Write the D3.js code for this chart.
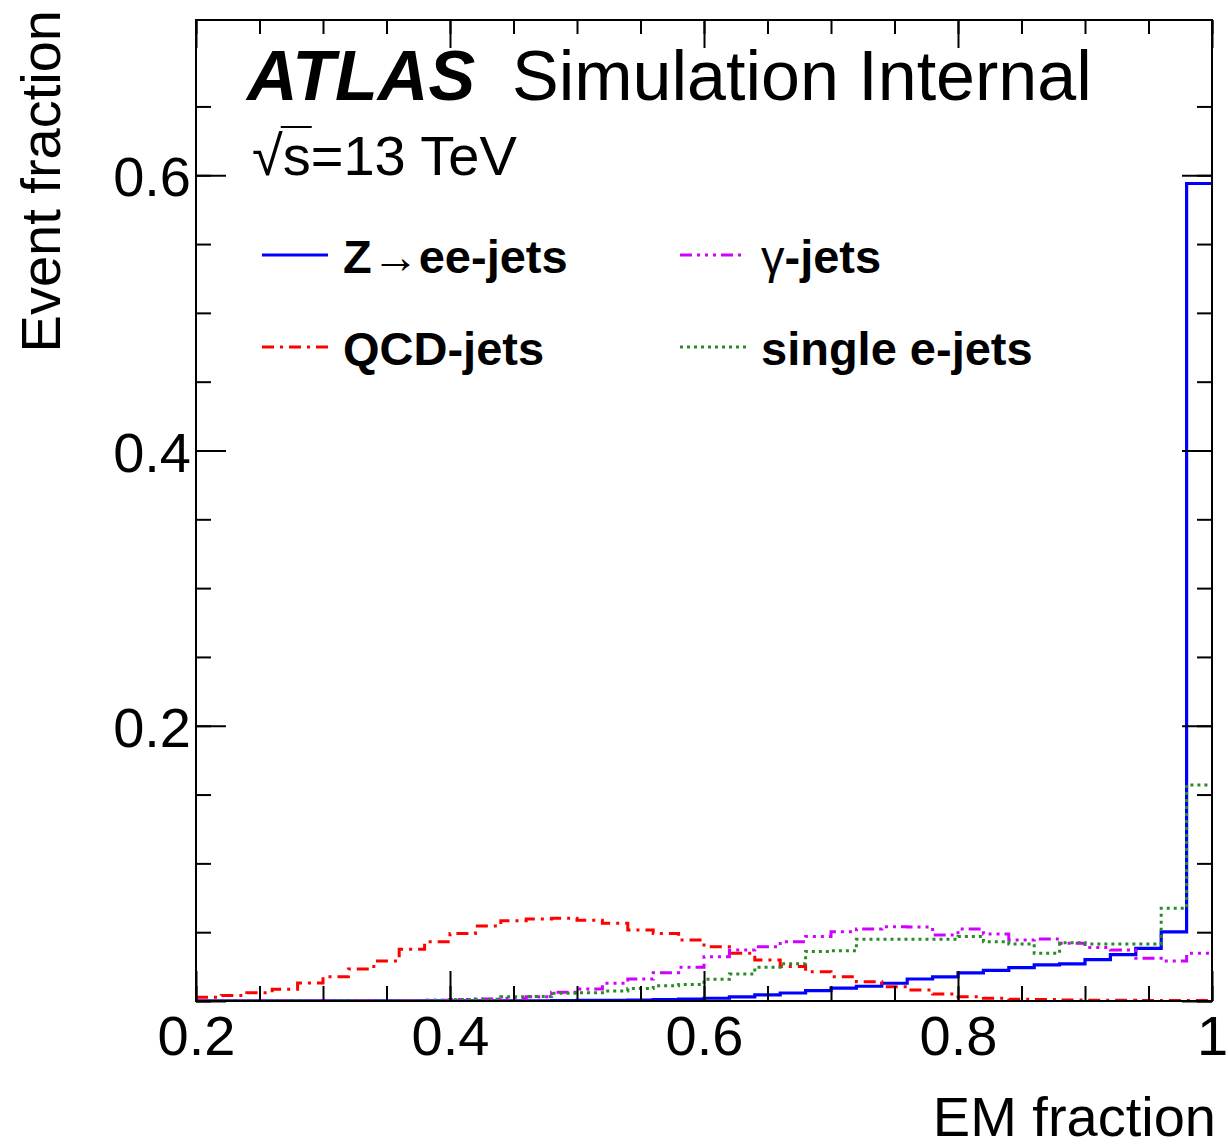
<!DOCTYPE html>
<html>
<head>
<meta charset="utf-8">
<script src="https://cdn.jsdelivr.net/npm/d3@7"></script>
<style>
	body{margin:0;background:#fff;}
	text{font-family:"Liberation Sans",Arial,Helvetica,sans-serif;fill:#000;}
</style>
</head>
<body>
<svg id="chart" width="1228" height="1147"></svg>
<script>
// bin edges: 40 bins of 0.02 from 0.2 to 1.0
let binLow = d3.range(40).map(function(i){ return +(0.2+i*0.02).toFixed(2) })
let binWidth = 0.02

// event fractions, one value per bin
let zeeJets = [0.0001,0.0001,0.0001,0.0001,0.0001,0.0001,0.0001,0.0001,0.0001,0.0001,
	0.0002,0.0002,0.0002,0.0002,0.0003,0.0004,0.0005,0.0007,0.001,0.0013,
	0.002,0.003,0.0045,0.0058,0.0075,0.0093,0.0107,0.0129,0.016,0.0175,
	0.0205,0.0223,0.0242,0.0262,0.027,0.030,0.0337,0.0383,0.0502,0.594]

let qcdJets = [0.0028,0.004,0.006,0.0085,0.013,0.0177,0.0233,0.029,0.0376,0.043,
	0.049,0.0545,0.0584,0.0596,0.0601,0.0587,0.0565,0.0516,0.049,0.0444,
	0.0395,0.0347,0.0298,0.025,0.0213,0.0177,0.014,0.0104,0.008,0.005,
	0.0031,0.002,0.0013,0.0011,0.0008,0.0006,0.0005,0.0004,0.0003,0.0003]

let gammaJets = [0.0002,0.0002,0.0002,0.0002,0.0002,0.0002,0.0002,0.0002,0.0002,0.0006,
	0.001,0.0015,0.002,0.003,0.0063,0.0087,0.0129,0.016,0.0206,0.0245,
	0.0322,0.0371,0.0395,0.0431,0.0468,0.0504,0.0524,0.054,0.0537,0.048,
	0.0524,0.0487,0.0444,0.045,0.042,0.0388,0.0371,0.031,0.029,0.0347]

let singleEJets = [0.0002,0.0002,0.0002,0.0002,0.0002,0.0002,0.0002,0.0002,0.0002,0.0005,
	0.001,0.0012,0.003,0.0033,0.0056,0.006,0.0073,0.009,0.011,0.012,
	0.0158,0.0196,0.0245,0.027,0.0359,0.0366,0.0449,0.0449,0.0449,0.0449,
	0.0468,0.0431,0.0415,0.0347,0.0424,0.0415,0.0415,0.0415,0.0674,0.157]

let xMajorTicks = [0.2,0.4,0.6,0.8,1.0]
let xTickLabels = ['0.2','0.4','0.6','0.8','1']
let yMajorTicks = [0,0.2,0.4,0.6]
let yTickLabels = ['','0.2','0.4','0.6']

let series = [
	{'name':'zee','values':zeeJets,'colour':'#0000ff','dash':null,'width':3.2},
	{'name':'qcd','values':qcdJets,'colour':'#ff0000','dash':'12,6,3,6','width':3},
	{'name':'gamma','values':gammaJets,'colour':'#d000ff','dash':'12,5,3,5,3,5,3,5','width':3},
	{'name':'single','values':singleEJets,'colour':'#2a8a2a','dash':'3,4','width':3}
]

let legendOrder = ['zee','gamma','qcd','single']

function init(){
	let svg = d3.select('#chart')
	let margin = {top:20,right:16,bottom:146,left:196}
	let width = 1228-margin.left-margin.right
	let height = 1147-margin.top-margin.bottom

	let x = d3.scaleLinear().domain([0.2,1.0]).range([0,width])
	let y = d3.scaleLinear().domain([0,0.7128]).range([height,0])

	svg.append('rect').attr('width',1228).attr('height',1147).attr('fill','#fff')

	let g = svg.append('g').attr('transform','translate('+margin.left+','+margin.top+')')

	g.append('clipPath').attr('id','plotclip')
		.append('rect').attr('x',-2).attr('y',0).attr('width',width+4).attr('height',height)

	// histograms
	let line = d3.line().x(function(d){ return x(d[0]) }).y(function(d){ return y(d[1]) })
	series.forEach(function(s){
		let pts = []
		s.values.forEach(function(v,i){
			pts.push([binLow[i],v])
			pts.push([binLow[i]+binWidth,v])
		})
		g.append('path')
			.attr('d',line(pts))
			.attr('fill','none')
			.attr('stroke',s.colour)
			.attr('stroke-width',s.width)
			.attr('stroke-dasharray',s.dash)
			.attr('clip-path','url(#plotclip)')
	})

	// minor ticks
	let xMinor = d3.range(0.2,1.0001,0.05).map(function(v){ return +v.toFixed(2) })
	let yMinor = d3.range(0,0.7,0.05).map(function(v){ return +v.toFixed(2) })

	function styleAxis(sel){
		sel.select('.domain').remove()
		sel.selectAll('line').attr('stroke','#000').attr('stroke-width',2)
	}

	g.append('g').attr('transform','translate(0,'+height+')')
		.call(d3.axisBottom(x).tickValues(xMinor).tickSize(-15).tickFormat(''))
		.call(styleAxis)
	g.append('g')
		.call(d3.axisTop(x).tickValues(xMinor).tickSize(-14).tickFormat(''))
		.call(styleAxis)
	g.append('g')
		.call(d3.axisLeft(y).tickValues(yMinor).tickSize(-15).tickFormat(''))
		.call(styleAxis)
	g.append('g').attr('transform','translate('+width+',0)')
		.call(d3.axisRight(y).tickValues(yMinor).tickSize(-15).tickFormat(''))
		.call(styleAxis)

	// major ticks with labels
	let xAxis = g.append('g').attr('transform','translate(0,'+height+')')
		.call(d3.axisBottom(x).tickValues(xMajorTicks).tickSize(-30).tickPadding(14)
			.tickFormat(function(d,i){ return xTickLabels[i] }))
		.call(styleAxis)
	xAxis.selectAll('text').attr('font-size',56).style('font-family','"Liberation Sans",Arial,sans-serif').attr('fill','#000')

	g.append('g')
		.call(d3.axisTop(x).tickValues(xMajorTicks).tickSize(-28).tickFormat(''))
		.call(styleAxis)

	let yAxis = g.append('g')
		.call(d3.axisLeft(y).tickValues(yMajorTicks).tickSize(-30).tickPadding(5)
			.tickFormat(function(d,i){ return yTickLabels[i] }))
		.call(styleAxis)
	yAxis.selectAll('text').attr('font-size',56).attr('dy','0.37em').style('font-family','"Liberation Sans",Arial,sans-serif').attr('fill','#000')

	g.append('g').attr('transform','translate('+width+',0)')
		.call(d3.axisRight(y).tickValues(yMajorTicks).tickSize(-30).tickFormat(''))
		.call(styleAxis)

	// frame
	g.append('rect').attr('width',width).attr('height',height)
		.attr('fill','none').attr('stroke','#000').attr('stroke-width',2)

	// axis titles
	svg.append('text')
		.attr('transform','translate(60,10) rotate(-90)')
		.attr('text-anchor','end')
		.attr('font-size',56)
		.text('Event fraction')

	svg.append('text')
		.attr('x',1216).attr('y',1136)
		.attr('text-anchor','end')
		.attr('font-size',56)
		.text('EM fraction')

	// ATLAS label
	svg.append('text')
		.attr('x',247).attr('y',100)
		.attr('font-size',70)
		.attr('font-weight','bold').attr('font-style','italic')
		.text('ATLAS')
	svg.append('text')
		.attr('x',512).attr('y',100)
		.attr('font-size',70)
		.text('Simulation Internal')

	// sqrt(s) label, with the radical bar drawn over the s
	let energy = svg.append('text').attr('x',252).attr('y',175).attr('font-size',56)
	energy.append('tspan').attr('font-size',56).text('√')
	energy.append('tspan').text('s=13 TeV')
	let node = energy.node()
	let rootBox = node.getExtentOfChar(0)
	let sBox = node.getExtentOfChar(1)
	let barY = 127
	svg.append('line')
		.attr('x1',rootBox.x+rootBox.width-2).attr('x2',sBox.x+sBox.width+1)
		.attr('y1',barY).attr('y2',barY)
		.attr('stroke','#000').attr('stroke-width',2)

	// legend
	let legendLabels = {
		'zee':[['Z','bold'],['→','normal'],['ee-jets','bold']],
		'gamma':[['γ','normal'],['-jets','bold']],
		'qcd':[['QCD-jets','bold']],
		'single':[['single e-jets','bold']]
	}
	let legendCols = [262,680]
	let legendRows = [255,347]
	legendOrder.forEach(function(key,i){
		let s = series.find(function(d){ return d.name==key })
		let lx = legendCols[i%2]
		let ly = legendRows[Math.floor(i/2)]
		svg.append('line')
			.attr('x1',lx).attr('x2',lx+66)
			.attr('y1',ly).attr('y2',ly)
			.attr('stroke',s.colour)
			.attr('stroke-width',s.width)
			.attr('stroke-dasharray',s.dash)
		let t = svg.append('text')
			.attr('x',lx+81).attr('y',ly+18)
			.attr('font-size',47)
		legendLabels[key].forEach(function(part){
			t.append('tspan').attr('font-weight',part[1]).text(part[0])
		})
	})
}

init()
</script>
</body>
</html>
